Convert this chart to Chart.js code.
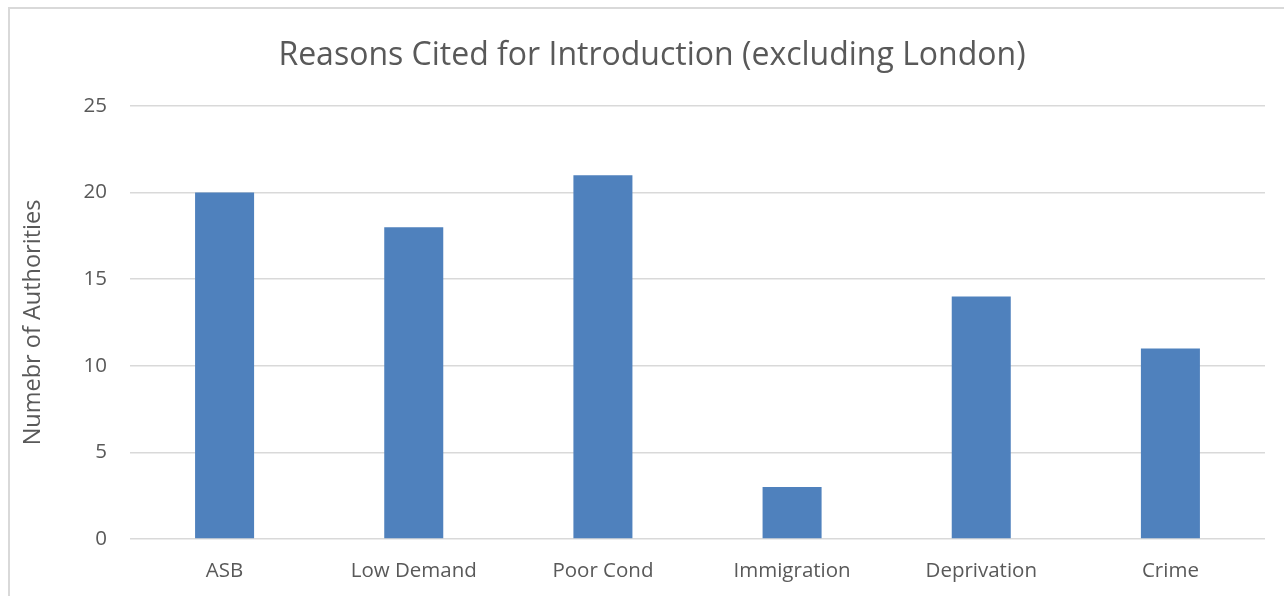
<!DOCTYPE html>
<html>
<head>
<meta charset="utf-8">
<script src="https://cdn.jsdelivr.net/npm/chart.js@4/dist/chart.umd.min.js"></script>
<style>
  html, body { margin: 0; padding: 0; background: #ffffff; overflow: hidden; }
  #frame { position: absolute; left: 8px; top: 7px; width: 1400px; height: 700px; border: 2px solid #d9d9d9; box-sizing: border-box; }
  #wrap { position: absolute; left: 0; top: 0; width: 1284px; height: 596px; }
</style>
</head>
<body>
<div id="frame"></div>
<div id="wrap"><canvas id="c" width="1284" height="596"></canvas></div>
<script>
const categories = ["ASB", "Low Demand", "Poor Cond", "Immigration", "Deprivation", "Crime"];
const authorities = [20, 18, 21, 3, 14, 11];
const yTicks = [0, 5, 10, 15, 20, 25];

const FONT = "'Open Sans', sans-serif";
const TXT = "#595959";

new Chart(document.getElementById('c'), {
  type: 'bar',
  data: {
    labels: categories,
    datasets: [{
      data: authorities,
      backgroundColor: '#4f81bd',
      borderWidth: 0,
      barPercentage: 0.312,
      categoryPercentage: 1.0
    }]
  },
  options: {
    responsive: false,
    animation: false,
    devicePixelRatio: 1,
    layout: { padding: { left: 39, right: 19, top: 0, bottom: 0 } },
    plugins: {
      legend: { display: false },
      tooltip: { enabled: false },
      title: {
        display: true,
        text: "Reasons Cited for Introduction (excluding London)",
        color: TXT,
        font: { family: FONT, size: 32, weight: 'normal', lineHeight: 1.2 },
        padding: { top: 36.5, bottom: 31.1 }
      }
    },
    scales: {
      x: {
        grid: { display: false, drawTicks: false },
        border: { display: false },
        ticks: { color: TXT, font: { family: FONT, size: 20.5 }, padding: 20, maxRotation: 0, autoSkip: false },
        afterFit: (s) => { s.height = 57; }
      },
      y: {
        min: 0, max: 25,
        afterBuildTicks: (s) => { s.ticks = yTicks.map(v => ({ value: v })); },
        grid: { color: '#d9d9d9', lineWidth: 1.5, drawTicks: false },
        border: { display: false },
        ticks: { color: TXT, font: { family: FONT, size: 20.5 }, padding: 23 },
        title: {
          display: true,
          text: "Numebr of Authorities",
          color: TXT,
          font: { family: FONT, size: 23.5, lineHeight: 1.2 },
          padding: { top: -20.1, bottom: 0 }
        },
        afterFit: (s) => { s.width = 91; }
      }
    }
  }
});
</script>
</body>
</html>
